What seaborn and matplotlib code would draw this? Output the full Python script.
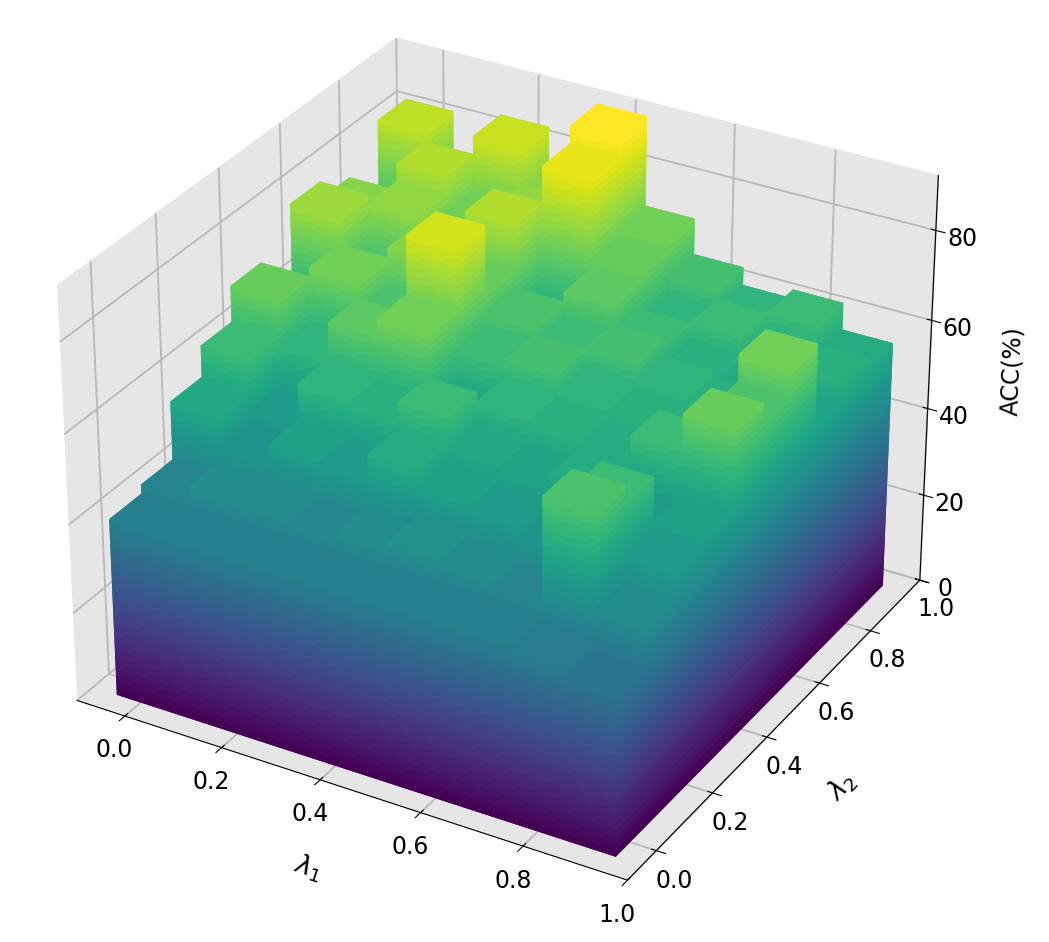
import numpy as np
import seaborn as sns
import matplotlib
matplotlib.use("Agg")
import matplotlib.pyplot as plt

sns.reset_orig()

lam1 = [0.0, 0.1, 0.2, 0.3, 0.4, 0.5, 0.6, 0.7, 0.8, 0.9]
lam2 = [0.0, 0.1, 0.2, 0.3, 0.4, 0.5, 0.6, 0.7, 0.8, 0.9]
# acc[i][j]: row i = lambda2, column j = lambda1
acc = [
    [40, 40, 40, 40, 40, 40, 40, 40, 38, 35],
    [42, 45, 44, 43, 45, 46, 44, 42, 66, 45],
    [55, 48, 52, 50, 56, 52, 50, 48, 62, 50],
    [62, 50, 60, 58, 62, 55, 54, 56, 50, 52],
    [70, 60, 68, 72, 55, 60, 58, 56, 62, 70],
    [60, 72, 66, 85, 62, 64, 60, 58, 55, 66],
    [78, 65, 74, 70, 66, 62, 64, 60, 58, 72],
    [74, 76, 70, 80, 60, 68, 62, 58, 56, 54],
    [66, 80, 72, 76, 88, 70, 60, 62, 60, 58],
    [82, 70, 84, 74, 92, 72, 64, 60, 62, 56],
]

fig = plt.figure(figsize=(10.49, 9.42), dpi=100)
ax = fig.add_axes([-0.03, 0.0, 1.0, 1.04], projection="3d")

cmap = plt.get_cmap("viridis")
step = 1.5
xs, ys, zs, ds, cs = [], [], [], [], []
for i, y in enumerate(lam2):
    for j, x in enumerate(lam1):
        h = acc[i][j]
        for z0 in np.arange(0, h, step):
            xs.append(x - 0.05); ys.append(y - 0.05); zs.append(z0)
            ds.append(min(step, h - z0))
            cs.append(cmap(z0 / 90))
ax.bar3d(xs, ys, zs, 0.1, 0.1, ds, color=cs, shade=False, linewidth=0)

for a in (ax.xaxis, ax.yaxis, ax.zaxis):
    a.set_pane_color((0.9, 0.9, 0.9, 1.0))
    a._axinfo["grid"]["color"] = (0.72, 0.72, 0.72, 1)
    a._axinfo["grid"]["linewidth"] = 1.3

ax.set_xlim(-0.1, 1.0)
ax.set_ylim(-0.1, 1.0)
ax.set_zlim(0, 92)
ax.set_xticks([0, 0.2, 0.4, 0.6, 0.8, 1.0])
ax.set_yticks([0, 0.2, 0.4, 0.6, 0.8, 1.0])
ax.set_zticks([0, 20, 40, 60, 80])
ax.tick_params(labelsize=17)
ax.set_xlabel(r"$\lambda_1$", fontsize=19, labelpad=20)
ax.set_ylabel(r"$\lambda_2$", fontsize=19, labelpad=20)
ax.set_zlabel("ACC(%)", fontsize=17, labelpad=16)
fig.savefig("out.png", dpi=100)
